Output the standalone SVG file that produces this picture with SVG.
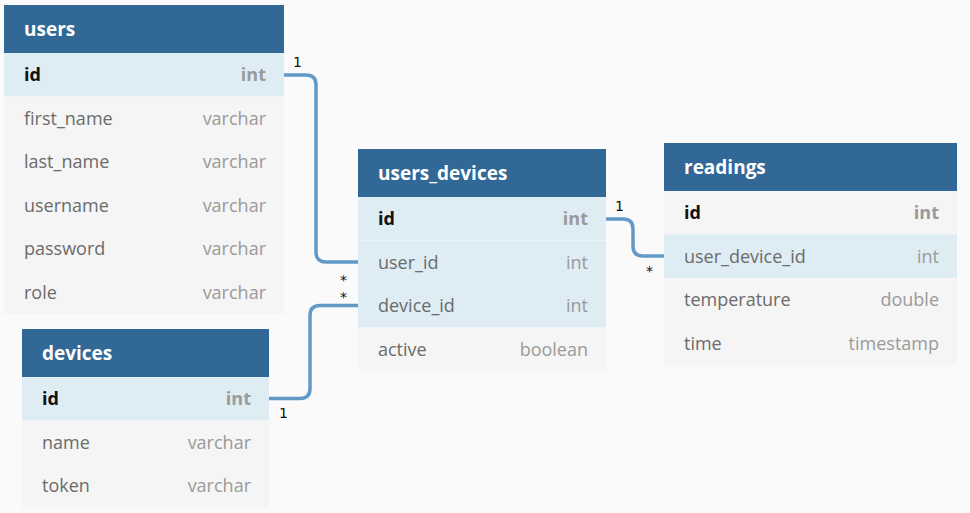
<svg xmlns="http://www.w3.org/2000/svg" width="970" height="513" viewBox="0 0 970 513">
<style>
.bg{fill:#fafafa}
.hdr{fill:#316896}
.pk{fill:#deecf4}
.row{fill:#f5f5f5}
.title{font-family:"Open Sans","Noto Sans","Liberation Sans",sans-serif;font-size:19px;font-weight:bold;fill:#ffffff}
.fn{font-family:"Open Sans","Noto Sans","Liberation Sans",sans-serif;font-size:18px;fill:#6b6b6b}
.fnk{font-family:"Open Sans","Noto Sans","Liberation Sans",sans-serif;font-size:18px;font-weight:bold;fill:#111111}
.ty{font-family:"Open Sans","Noto Sans","Liberation Sans",sans-serif;font-size:18px;fill:#9a9a9a;text-anchor:end}
.tyk{font-family:"Open Sans","Noto Sans","Liberation Sans",sans-serif;font-size:18px;font-weight:bold;fill:#9a9a9a;text-anchor:end}
.conn{fill:none;stroke:#6199c9;stroke-width:3.5}
.lbl{font-family:"DejaVu Sans","Liberation Sans",sans-serif;font-size:14px;fill:#111111}
</style>
<rect class="bg" x="0" y="0" width="970" height="513"/>

<g id="connectors">
<path class="conn" d="M284,75 H306 Q316,75 316,85 V252 Q316,262 326,262 H358"/>
<path class="conn" d="M269,398.5 H300 Q310,398.5 310,388.5 V315.5 Q310,305.5 320,305.5 H358"/>
<path class="conn" d="M606,219 H623 Q633,219 633,229 V246 Q633,256 643,256 H664"/>
<text class="lbl" x="293" y="67">1</text>
<text class="lbl" x="340" y="285">*</text>
<text class="lbl" x="340" y="302">*</text>
<text class="lbl" x="279" y="418">1</text>
<text class="lbl" x="615" y="211">1</text>
<text class="lbl" x="646" y="276">*</text>
</g>

<g id="users">
<rect class="hdr" x="4" y="5" width="280" height="48"/>
<text class="title" x="24" y="36">users</text>
<rect class="pk" x="4" y="53" width="280" height="43.5"/>
<rect class="row" x="4" y="96.5" width="280" height="217.5"/>
<text class="fnk" x="24" y="81">id</text><text class="tyk" x="266" y="81">int</text>
<text class="fn" x="24" y="124.5">first_name</text><text class="ty" x="266" y="124.5">varchar</text>
<text class="fn" x="24" y="168">last_name</text><text class="ty" x="266" y="168">varchar</text>
<text class="fn" x="24" y="211.5">username</text><text class="ty" x="266" y="211.5">varchar</text>
<text class="fn" x="24" y="255">password</text><text class="ty" x="266" y="255">varchar</text>
<text class="fn" x="24" y="298.5">role</text><text class="ty" x="266" y="298.5">varchar</text>
</g>

<g id="users_devices">
<rect class="hdr" x="358" y="149" width="248" height="48"/>
<text class="title" x="378" y="180">users_devices</text>
<rect class="pk" x="358" y="197" width="248" height="130.5"/>
<line x1="358" y1="240.5" x2="606" y2="240.5" stroke="#eaf3f8" stroke-width="1"/>
<rect class="row" x="358" y="327.5" width="248" height="43.5"/>
<text class="fnk" x="378" y="225">id</text><text class="tyk" x="588" y="225">int</text>
<text class="fn" x="378" y="268.5">user_id</text><text class="ty" x="588" y="268.5">int</text>
<text class="fn" x="378" y="312">device_id</text><text class="ty" x="588" y="312">int</text>
<text class="fn" x="378" y="355.5">active</text><text class="ty" x="588" y="355.5">boolean</text>
</g>

<g id="readings">
<rect class="hdr" x="664" y="143" width="293" height="48"/>
<text class="title" x="684" y="174">readings</text>
<rect class="row" x="664" y="191" width="293" height="43.5"/>
<rect class="pk" x="664" y="234.5" width="293" height="43.5"/>
<rect class="row" x="664" y="278" width="293" height="87"/>
<text class="fnk" x="684" y="219">id</text><text class="tyk" x="939" y="219">int</text>
<text class="fn" x="684" y="262.5">user_device_id</text><text class="ty" x="939" y="262.5">int</text>
<text class="fn" x="684" y="306">temperature</text><text class="ty" x="939" y="306">double</text>
<text class="fn" x="684" y="349.5">time</text><text class="ty" x="939" y="349.5">timestamp</text>
</g>

<g id="devices">
<rect class="hdr" x="22" y="329" width="247" height="48"/>
<text class="title" x="42" y="360">devices</text>
<rect class="pk" x="22" y="377" width="247" height="43.5"/>
<rect class="row" x="22" y="420.5" width="247" height="87"/>
<text class="fnk" x="42" y="405">id</text><text class="tyk" x="251" y="405">int</text>
<text class="fn" x="42" y="448.5">name</text><text class="ty" x="251" y="448.5">varchar</text>
<text class="fn" x="42" y="492">token</text><text class="ty" x="251" y="492">varchar</text>
</g>
</svg>
